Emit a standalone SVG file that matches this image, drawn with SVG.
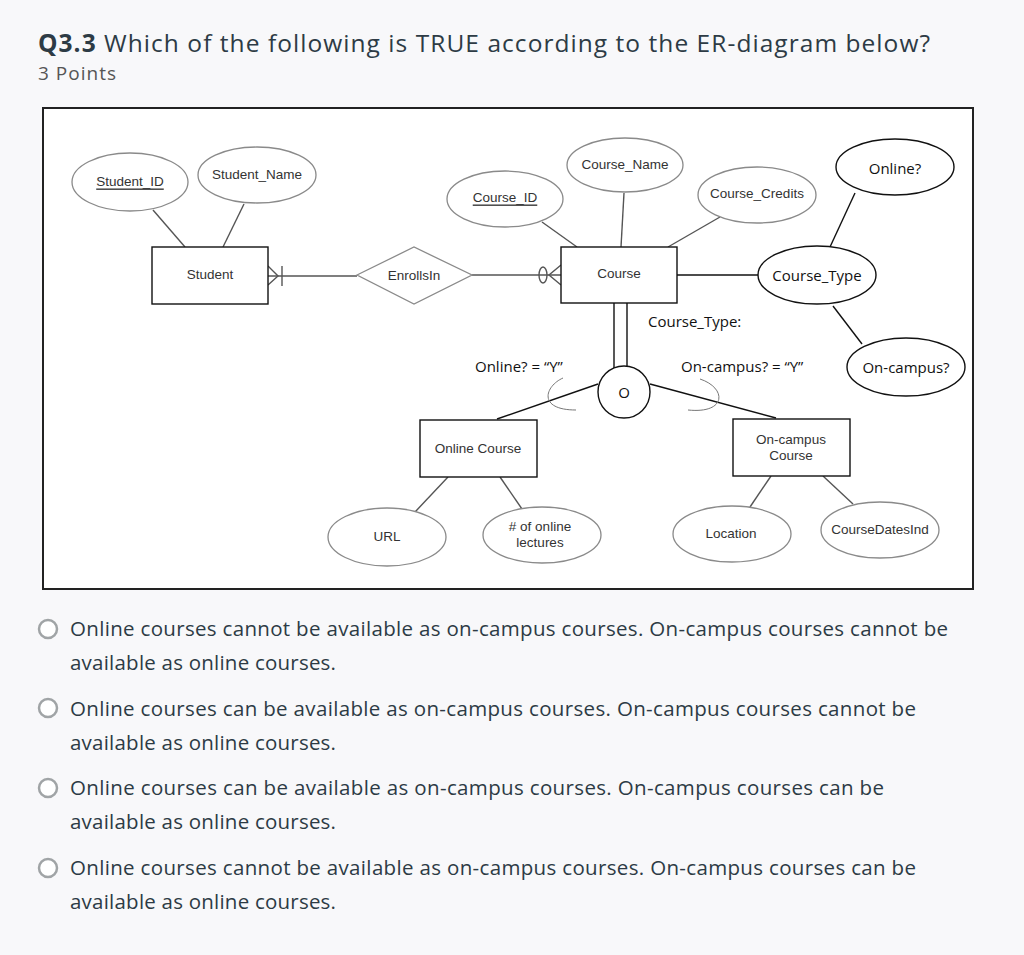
<svg xmlns="http://www.w3.org/2000/svg" width="1024" height="955" viewBox="0 0 1024 955">
<style>
.page{fill:#f8f8fa}
.title{font-family:"Open Sans","Liberation Sans",sans-serif;font-size:24.5px;fill:#2d3b45}
.pts{font-family:"Open Sans","Liberation Sans",sans-serif;font-size:19px;fill:#555}
.opt{font-family:"Open Sans","Liberation Sans",sans-serif;font-size:20.5px;fill:#2d3b45}
.radio{fill:#fff;stroke:#a0a4a6;stroke-width:2.5}
.g{fill:#fff;stroke:#8a8a8a;stroke-width:1.3}
.b{fill:#fff;stroke:#111;stroke-width:1.4}
.gt{font-family:"Liberation Sans",Arial,sans-serif;font-size:13.5px;fill:#333;text-anchor:middle;dominant-baseline:central}
.bt{font-family:"Open Sans","Liberation Sans",sans-serif;font-size:15px;fill:#111;text-anchor:middle;dominant-baseline:central}
.bl{font-family:"Open Sans","Liberation Sans",sans-serif;font-size:15px;fill:#111}
.lg{stroke:#555;stroke-width:1.4;fill:none}
.lb{stroke:#111;stroke-width:1.4;fill:none}
.arc{stroke:#777;stroke-width:1;fill:none}
</style>
<rect class="page" x="0" y="0" width="1024" height="955"/>
<text x="38" y="52" class="title" textLength="892"><tspan font-weight="bold">Q3.3</tspan> Which of the following is TRUE according to the ER-diagram below?</text>
<text x="38" y="80" class="pts" textLength="78">3 Points</text>

<rect x="43" y="108" width="930" height="481" fill="#fff" stroke="#222" stroke-width="2"/>

<g id="connectors">
<line class="lg" x1="153" y1="210" x2="185" y2="247"/>
<line class="lg" x1="244" y1="204" x2="223" y2="247"/>
<line class="lg" x1="268" y1="276" x2="357" y2="276"/>
<polyline class="lg" points="268,266 278,276 268,285"/>
<line class="lg" x1="282" y1="266" x2="282" y2="286"/>
<line class="lg" x1="472" y1="275" x2="562" y2="275"/>
<ellipse class="lg" cx="543" cy="275" rx="4" ry="8" fill="#fff"/>
<polyline class="lg" points="561,265 549,275 561,285"/>
<line class="lg" x1="542" y1="222" x2="577" y2="247"/>
<line class="lg" x1="624" y1="193" x2="621" y2="247"/>
<line class="lg" x1="720" y1="217" x2="668" y2="247"/>
<line class="lb" x1="677" y1="275" x2="758" y2="275"/>
<line class="lb" x1="855" y1="193" x2="830" y2="247"/>
<line class="lb" x1="833" y1="306" x2="862" y2="344"/>
<line class="lb" x1="614" y1="303" x2="614" y2="368"/>
<line class="lb" x1="627" y1="303" x2="627" y2="366"/>
<line class="lb" x1="598" y1="384" x2="497" y2="419"/>
<line class="lb" x1="650" y1="384" x2="776" y2="418"/>
<path class="arc" d="M563,378 C545,386 537,410 576,410"/>
<path class="arc" d="M700,379 C727,388 727,414 688,410"/>
<line class="lg" x1="448" y1="477" x2="415" y2="512"/>
<line class="lg" x1="500" y1="477" x2="522" y2="509"/>
<line class="lg" x1="771" y1="476" x2="750" y2="507"/>
<line class="lg" x1="823" y1="476" x2="853" y2="504"/>
</g>

<g id="student_id"><ellipse class="g" cx="130" cy="182" rx="58" ry="29"/><text class="gt" x="130" y="181" text-decoration="underline">Student_ID</text></g>
<g id="student_name"><ellipse class="g" cx="257" cy="175" rx="59" ry="28"/><text class="gt" x="257" y="174">Student_Name</text></g>
<g id="student"><rect class="b" x="152" y="247" width="116" height="57"/><text class="gt" x="210" y="274">Student</text></g>
<g id="enrollsin"><polygon class="g" points="357,275 414,247 472,275 414,304"/><text class="gt" x="414" y="275">EnrollsIn</text></g>
<g id="course_id"><ellipse class="g" cx="505" cy="199" rx="58" ry="28"/><text class="gt" x="505" y="197" text-decoration="underline">Course_ID</text></g>
<g id="course_name"><ellipse class="g" cx="625" cy="165" rx="58" ry="27"/><text class="gt" x="625" y="164">Course_Name</text></g>
<g id="course_credits"><ellipse class="g" cx="757" cy="195" rx="59" ry="28"/><text class="gt" x="757" y="193">Course_Credits</text></g>
<g id="course"><rect class="b" x="561" y="247" width="116" height="56"/><text class="gt" x="619" y="273">Course</text></g>
<g id="course_type"><ellipse class="b" cx="817" cy="275" rx="59" ry="29"/><text class="bt" x="817" y="275">Course_Type</text></g>
<g id="online_q"><ellipse class="b" cx="895" cy="167" rx="59" ry="28"/><text class="bt" x="895" y="168">Online?</text></g>
<g id="oncampus_q"><ellipse class="b" cx="906" cy="367" rx="59" ry="29"/><text class="bt" x="906" y="367">On-campus?</text></g>
<g id="course_type_label"><text class="bl" x="648" y="327">Course_Type:</text></g>
<g id="online_label"><text class="bl" x="475" y="372">Online? = “Y”</text></g>
<g id="oncampus_label"><text class="bl" x="681" y="372">On-campus? = “Y”</text></g>
<g id="overlap"><circle class="b" cx="624" cy="392" r="26"/><text class="bt" x="624" y="392" font-size="16">O</text></g>
<g id="online_course"><rect class="b" x="420" y="420" width="117" height="57"/><text class="gt" x="478" y="448">Online Course</text></g>
<g id="oncampus_course"><rect class="b" x="733" y="419" width="117" height="57"/><text class="gt" x="791" y="439">On-campus</text><text class="gt" x="791" y="455">Course</text></g>
<g id="url"><ellipse class="g" cx="387" cy="537" rx="59" ry="29"/><text class="gt" x="387" y="536">URL</text></g>
<g id="online_lectures"><ellipse class="g" cx="542" cy="535" rx="59" ry="28"/><text class="gt" x="540" y="526">#  of online</text><text class="gt" x="540" y="542">lectures</text></g>
<g id="location"><ellipse class="g" cx="732" cy="534" rx="59" ry="28"/><text class="gt" x="731" y="533">Location</text></g>
<g id="coursedatesind"><ellipse class="g" cx="880" cy="530" rx="59" ry="28"/><text class="gt" x="880" y="529">CourseDatesInd</text></g>

<g id="options">
<circle class="radio" cx="48" cy="629" r="9"/>
<text class="opt" x="70" y="636" textLength="878">Online courses cannot be available as on-campus courses. On-campus courses cannot be</text>
<text class="opt" x="70" y="670" textLength="266">available as online courses.</text>
<circle class="radio" cx="48" cy="708" r="9"/>
<text class="opt" x="70" y="716" textLength="846">Online courses can be available as on-campus courses. On-campus courses cannot be</text>
<text class="opt" x="70" y="750" textLength="266">available as online courses.</text>
<circle class="radio" cx="48" cy="788" r="9"/>
<text class="opt" x="70" y="795" textLength="814">Online courses can be available as on-campus courses. On-campus courses can be</text>
<text class="opt" x="70" y="829" textLength="266">available as online courses.</text>
<circle class="radio" cx="48" cy="868" r="9"/>
<text class="opt" x="70" y="875" textLength="846">Online courses cannot be available as on-campus courses. On-campus courses can be</text>
<text class="opt" x="70" y="909" textLength="266">available as online courses.</text>
</g>
</svg>
